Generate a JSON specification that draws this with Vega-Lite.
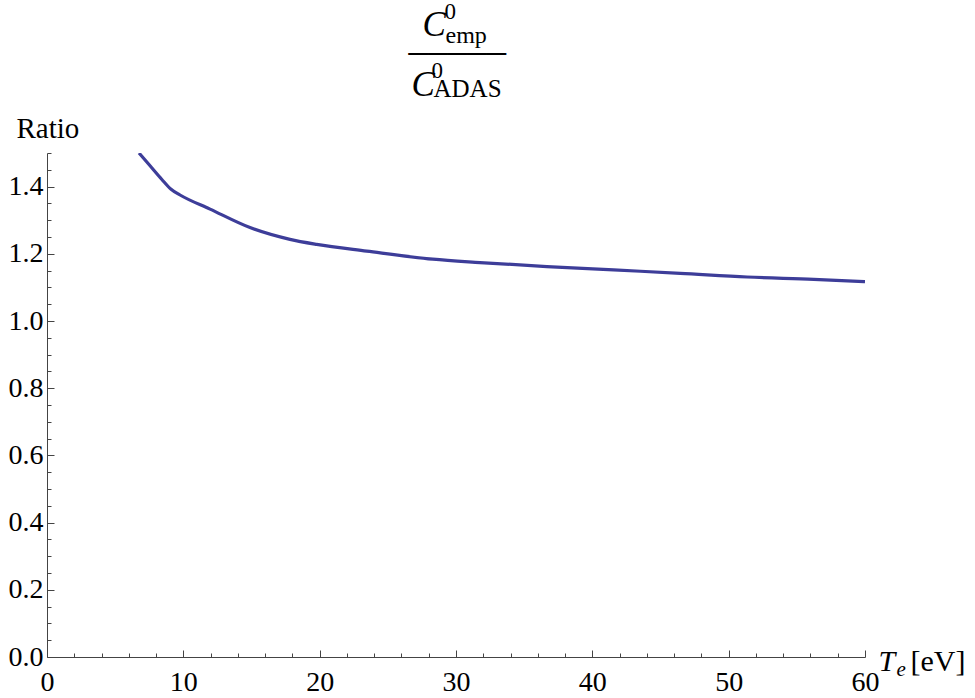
{
  "$schema": "https://vega.github.io/schema/vega-lite/v6.json",
  "width": 818,
  "height": 504,
  "autosize": "none",
  "padding": {"left": 47, "top": 153, "right": 110, "bottom": 41},
  "background": "white",
  "config": {
    "font": "Liberation Serif",
    "view": {"stroke": null},
    "axis": {"titleFontWeight": "normal", "titleColor": "black", "labelColor": "black", "grid": false, "labelFont": "Liberation Serif", "titleFont": "Liberation Serif"}
  },
  "data": {
    "values": [
      {"Te": 6.75, "ratio": 1.5},
      {"Te": 7.56, "ratio": 1.462},
      {"Te": 8.41, "ratio": 1.422},
      {"Te": 9.1, "ratio": 1.392},
      {"Te": 9.76, "ratio": 1.375},
      {"Te": 11.96, "ratio": 1.333},
      {"Te": 14.89, "ratio": 1.278},
      {"Te": 17.82, "ratio": 1.243},
      {"Te": 19.78, "ratio": 1.228},
      {"Te": 23.45, "ratio": 1.208},
      {"Te": 28.3, "ratio": 1.184},
      {"Te": 31.76, "ratio": 1.174},
      {"Te": 36.67, "ratio": 1.162},
      {"Te": 41.56, "ratio": 1.152},
      {"Te": 46.45, "ratio": 1.142},
      {"Te": 51.35, "ratio": 1.131},
      {"Te": 56.24, "ratio": 1.124},
      {"Te": 60, "ratio": 1.117}
    ]
  },
  "resolve": {"axis": {"x": "independent", "y": "independent"}},
  "layer": [
    {
      "mark": {"type": "line", "color": "#3d3d99", "strokeWidth": 3.2, "clip": true, "interpolate": "monotone"},
      "encoding": {
        "x": {
          "field": "Te", "type": "quantitative",
          "scale": {"domain": [0, 60], "nice": false, "zero": false},
          "axis": {
            "orient": "bottom",
            "values": [0,2,4,6,8,10,12,14,16,18,20,22,24,26,28,30,32,34,36,38,40,42,44,46,48,50,52,54,56,58,60],
            "labelExpr": "datum.value % 10 === 0 ? datum.label : ''",
            "tickSize": {"condition": {"test": "datum.value % 10 === 0", "value": -7}, "value": -4},
            "labelPadding": 18,
            "labelFontSize": 28,
            "labelOverlap": false,
            "labelFlush": false,
            "domainColor": "#444444",
            "tickColor": "#444444",
            "title": "[eV]",
            "titleFontSize": 30,
            "titleX": 863,
            "titleY": 13,
            "titleAlign": "left",
            "titleBaseline": "alphabetic",
            "titleAngle": 0
          }
        },
        "y": {
          "field": "ratio", "type": "quantitative",
          "scale": {"domain": [0, 1.5], "nice": false, "zero": false},
          "axis": {
            "orient": "left",
            "values": [0,0.05,0.1,0.15,0.2,0.25,0.3,0.35,0.4,0.45,0.5,0.55,0.6,0.65,0.7,0.75,0.8,0.85,0.9,0.95,1.0,1.05,1.1,1.15,1.2,1.25,1.3,1.35,1.4,1.45,1.5],
            "format": ".1f",
            "labelExpr": "abs(datum.value*5 - round(datum.value*5)) < 0.000001 ? datum.label : ''",
            "tickSize": {"condition": {"test": "abs(datum.value*5 - round(datum.value*5)) < 0.000001", "value": -7}, "value": -4},
            "labelPadding": 11,
            "labelFontSize": 28,
            "labelOverlap": false,
            "labelFlush": false,
            "domainColor": "#444444",
            "tickColor": "#444444",
            "title": "Ratio",
            "titleFontSize": 29,
            "titleAngle": 0,
            "titleX": -31,
            "titleY": -16,
            "titleAlign": "left",
            "titleBaseline": "alphabetic"
          }
        }
      }
    },
    {
      "mark": {"type": "line", "opacity": 0},
      "encoding": {
        "x": {"field": "Te", "type": "quantitative", "axis": {"orient": "top", "domain": false, "ticks": false, "labels": false, "title": "C", "titleFontSize": 35, "titleFontStyle": "italic", "titleX": 375, "titleY": -118, "titleAlign": "left", "titleBaseline": "alphabetic", "titleAngle": 0}},
        "y": {"field": "ratio", "type": "quantitative", "axis": {"orient": "right", "domain": false, "ticks": false, "labels": false, "title": "0", "titleFontSize": 23, "titleX": -421, "titleY": -135, "titleAlign": "left", "titleBaseline": "alphabetic", "titleAngle": 0}}
      }
    },
    {
      "mark": {"type": "line", "opacity": 0},
      "encoding": {
        "x": {"field": "Te", "type": "quantitative", "axis": {"orient": "top", "domain": false, "ticks": false, "labels": false, "title": "emp", "titleFontSize": 24, "titleX": 398, "titleY": -111, "titleAlign": "left", "titleBaseline": "alphabetic", "titleAngle": 0}},
        "y": {"field": "ratio", "type": "quantitative", "axis": {"orient": "right", "domain": false, "ticks": false, "labels": false, "title": "_____", "titleFontSize": 39, "titleX": -457, "titleY": -104, "titleAlign": "left", "titleBaseline": "alphabetic", "titleAngle": 0}}
      }
    },
    {
      "mark": {"type": "line", "opacity": 0},
      "encoding": {
        "x": {"field": "Te", "type": "quantitative", "axis": {"orient": "top", "domain": false, "ticks": false, "labels": false, "title": "C", "titleFontSize": 35, "titleFontStyle": "italic", "titleX": 364, "titleY": -58, "titleAlign": "left", "titleBaseline": "alphabetic", "titleAngle": 0}},
        "y": {"field": "ratio", "type": "quantitative", "axis": {"orient": "right", "domain": false, "ticks": false, "labels": false, "title": "0", "titleFontSize": 23, "titleX": -434, "titleY": -76, "titleAlign": "left", "titleBaseline": "alphabetic", "titleAngle": 0}}
      }
    },
    {
      "mark": {"type": "line", "opacity": 0},
      "encoding": {
        "x": {"field": "Te", "type": "quantitative", "axis": {"orient": "top", "domain": false, "ticks": false, "labels": false, "title": "ADAS", "titleFontSize": 25, "titleX": 386, "titleY": -57, "titleAlign": "left", "titleBaseline": "alphabetic", "titleAngle": 0}},
        "y": {"field": "ratio", "type": "quantitative", "axis": {"orient": "right", "domain": false, "ticks": false, "labels": false, "title": "T", "titleFontSize": 30, "titleFontStyle": "italic", "titleX": 13, "titleY": 517, "titleAlign": "left", "titleBaseline": "alphabetic", "titleAngle": 0}}
      }
    },
    {
      "mark": {"type": "line", "opacity": 0},
      "encoding": {
        "x": {"field": "Te", "type": "quantitative", "axis": {"orient": "top", "domain": false, "ticks": false, "labels": false, "title": "e", "titleFontSize": 21, "titleFontStyle": "italic", "titleX": 849, "titleY": 522, "titleAlign": "left", "titleBaseline": "alphabetic", "titleAngle": 0}},
        "y": {"field": "ratio", "type": "quantitative", "axis": null}
      }
    }
  ]
}
